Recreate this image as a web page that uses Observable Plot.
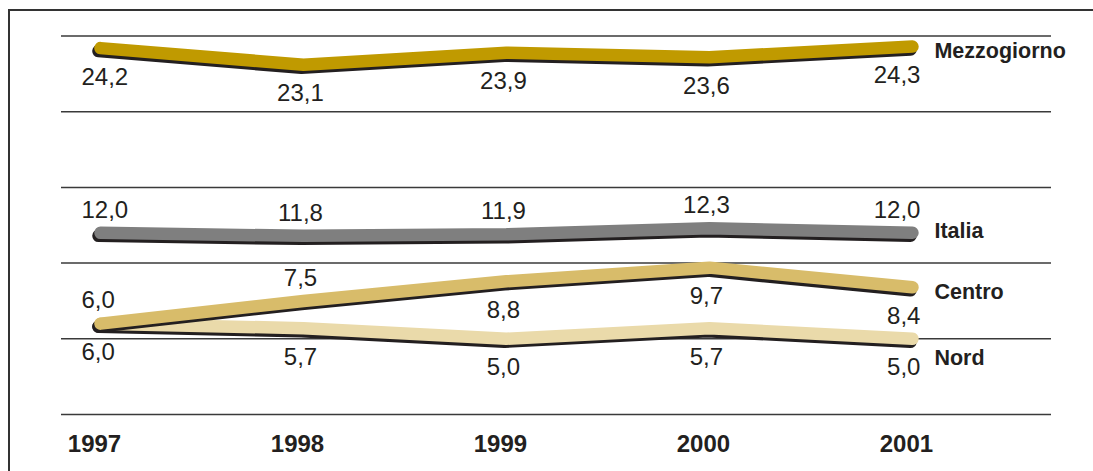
<!DOCTYPE html>
<html>
<head>
<meta charset="utf-8">
<script src="https://cdn.jsdelivr.net/npm/d3@7"></script>
<script src="https://cdn.jsdelivr.net/npm/@observablehq/plot@0.6"></script>
<style>
  html, body { margin: 0; padding: 0; background: #fff; }
  #wrap { position: relative; width: 1093px; height: 471px; overflow: hidden; }
  #frame { position: absolute; left: 8px; top: 9px; right: -4px; bottom: -4px;
           border-top: 2px solid #333; border-left: 2px solid #333; }
  #chart { position: absolute; left: 0; top: 0; }
</style>
</head>
<body>
<div id="wrap"><div id="frame"></div><div id="chart"></div></div>
<script>
const years = [1997, 1998, 1999, 2000, 2001];
const seriesNames = ["Mezzogiorno", "Italia", "Centro", "Nord"];
const mezzogiorno = [24.2, 23.1, 23.9, 23.6, 24.3];
const italia = [12.0, 11.8, 11.9, 12.3, 12.0];
const centro = [6.0, 7.5, 8.8, 9.7, 8.4];
const nord = [6.0, 5.7, 5.0, 5.7, 5.0];
const gridValues = [0, 5, 10, 15, 20, 25];

const seriesValues = {Mezzogiorno: mezzogiorno, Italia: italia, Centro: centro, Nord: nord};
const seriesColors = {Mezzogiorno: "#c09a00", Italia: "#7f7f7f", Centro: "#d8bc6a", Nord: "#eadaaa"};
const drawOrder = ["Mezzogiorno", "Italia", "Nord", "Centro"];

const rows = seriesNames.flatMap(s => years.map((year, i) => ({series: s, year, value: seriesValues[s][i], i})));
const fmt = v => d3.format(".1f")(v).replace(".", ",");
const above = d => d.series === "Italia" || (d.series === "Centro" && d.i < 2);

const ink = "#231f20";
const regular = "'Liberation Sans', Arial, sans-serif";
const bold = "'Liberation Sans', Arial, sans-serif";

const marks = [Plot.ruleY(gridValues, {stroke: "#3a3a3a", strokeWidth: 1.5})];

for (const s of drawOrder) {
  const data = rows.filter(d => d.series === s);
  marks.push(Plot.line(data, {x: "year", y: "value", stroke: ink, strokeWidth: 12.5, dx: -2, dy: 3,
    strokeLinecap: "round", strokeLinejoin: "round"}));
  marks.push(Plot.line(data, {x: "year", y: "value", stroke: seriesColors[s], strokeWidth: 12.5,
    strokeLinecap: "round", strokeLinejoin: "round"}));
}

// value labels
const groups = [
  {filter: d => d.i === 0, textAnchor: "start", dx: -19},
  {filter: d => d.i > 0 && d.i < 4, textAnchor: "middle", dx: -3},
  {filter: d => d.i === 4, textAnchor: "end", dx: 8}
];
for (const g of groups) {
  for (const side of [true, false]) {
    marks.push(Plot.text(rows.filter(d => g.filter(d) && above(d) === side), {
      x: "year", y: "value", text: d => fmt(d.value),
      textAnchor: g.textAnchor, dx: g.dx, dy: side ? -23 : 29, lineAnchor: "middle",
      fontSize: 24, fontFamily: regular, fill: ink
    }));
  }
}

// series labels
const labelDy = {Mezzogiorno: 5, Italia: -2, Centro: 5, Nord: 19};
for (const s of seriesNames) {
  marks.push(Plot.text(rows.filter(d => d.series === s && d.i === 4), {
    x: "year", y: "value", text: "series", textAnchor: "start", dx: 22,
    dy: labelDy[s], lineAnchor: "middle",
    fontSize: 21.5, fontWeight: "bold", fontFamily: bold, fill: ink, letterSpacing: "-0.9px"
  }));
}

marks.push(Plot.axisX({ticks: years, tickFormat: d => String(d), tickSize: 0, tickPadding: 20,
  fontSize: 24, fontWeight: "bold", fontFamily: bold, dx: -6, label: null, fill: ink,
  letterSpacing: "-0.8px"}));

const chart = Plot.plot({
  width: 1093, height: 471,
  marginLeft: 61, marginRight: 42, marginTop: 35.5, marginBottom: 57,
  x: {domain: [1996.808, 2001.685], axis: null},
  y: {domain: [0, 25], axis: null},
  style: {background: "transparent", color: ink, overflow: "visible"},
  marks
});
document.getElementById("chart").append(chart);
</script>
</body>
</html>
